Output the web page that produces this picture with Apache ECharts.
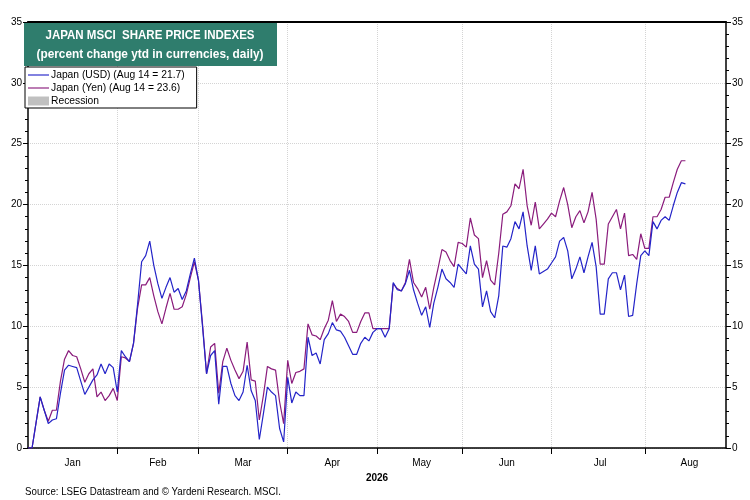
<!DOCTYPE html>
<html>
<head>
<meta charset="utf-8">
<script src="https://cdn.jsdelivr.net/npm/echarts@6/dist/echarts.min.js"></script>
<style>html,body{margin:0;padding:0;background:#fff}#c{width:750px;height:500px}</style>
</head>
<body>
<div id="c"></div>
<script>
// ---- data (one value per business day from Jan 1, 2026) ----
const usd = [0,0,2.1,4.2,3.1,2.0,2.3,2.4,4.5,6.4,6.8,6.7,6.6,5.5,4.4,5.0,5.6,6.0,6.9,6.1,6.9,6.6,4.6,8.0,7.5,7.1,8.6,11.8,15.3,15.8,17.0,15.0,13.5,12.3,13.2,14.0,12.8,13.1,12.2,12.9,14.3,15.6,13.8,10.0,6.1,7.6,8.0,3.6,6.7,6.7,5.3,4.3,3.9,4.6,6.8,4.7,3.9,0.7,2.8,5.0,4.6,4.3,1.6,0.5,5.8,3.7,4.6,4.3,4.3,9.1,7.6,7.8,6.9,8.9,9.4,10.3,9.7,9.6,9.1,8.4,7.7,7.7,8.6,9.1,8.8,9.5,9.8,9.8,9.1,9.8,13.6,13.0,12.9,13.5,14.6,13.0,11.9,10.9,11.6,9.9,11.9,13.2,14.7,13.9,13.6,13.2,15.1,14.7,14.3,16.6,15.1,14.7,11.6,12.9,11.2,10.7,12.5,16.6,16.5,17.2,18.6,18.0,19.4,16.6,14.6,16.6,14.3,14.5,14.7,15.2,15.7,17.0,17.3,16.2,13.9,14.7,15.7,14.4,15.7,16.9,14.9,11.0,11.0,13.9,14.4,14.4,13.0,14.2,10.8,10.9,13.5,15.8,16.2,15.8,18.6,18.0,18.7,19.0,18.7,19.9,21.0,21.8,21.7];
const yen = [0,0,2.1,4.2,3.1,2.2,3.1,3.1,5.5,7.3,8.0,7.6,7.5,6.5,5.4,6.1,6.5,4.2,4.6,3.9,4.3,4.9,3.9,7.5,7.4,7.1,8.6,11.5,13.4,13.4,14.0,12.5,11.2,10.2,11.5,12.7,11.4,11.4,11.6,12.6,14.0,15.3,13.8,10.2,6.1,8.3,8.6,4.5,7.1,8.2,7.2,6.4,5.7,6.3,8.7,5.6,5.5,2.3,4.3,6.7,6.5,6.4,3.8,2.0,7.2,5.3,6.2,6.3,6.5,10.2,9.3,9.2,8.9,9.8,10.5,12.1,10.4,11.0,10.8,10.4,9.5,9.5,10.4,11.1,11.1,9.8,9.8,9.8,9.8,9.8,13.5,13.1,12.9,13.6,15.5,13.6,13.1,12.4,13.2,11.4,13.2,14.7,16.3,16.1,15.4,14.9,16.9,16.8,16.5,18.9,17.5,17.2,14.0,15.4,13.8,13.4,16.0,19.2,19.4,19.9,21.7,21.3,22.9,19.9,18.3,20.2,18.0,18.4,18.8,19.3,19.0,20.3,21.4,20.0,18.1,19.0,19.5,18.5,19.4,21.0,18.8,15.1,15.1,18.4,19.0,19.6,18.0,19.3,15.8,15.9,15.5,17.6,16.4,16.4,19.0,19.0,19.6,20.6,20.6,21.8,22.9,23.6,23.6];
const monthNames = ['Jan','Feb','Mar','Apr','May','Jun','Jul','Aug'];
const yTicks = [0,5,10,15,20,25,30,35];
const usdName = 'Japan (USD) (Aug 14 = 21.7)';
const yenName = 'Japan (Yen) (Aug 14 = 23.6)';
const recName = 'Recession';
const title1 = 'JAPAN MSCI  SHARE PRICE INDEXES';
const title2 = '(percent change ytd in currencies, daily)';
const sourceText = 'Source: LSEG Datastream and \u00a9 Yardeni Research. MSCI.';

// business days Jan 1 - Aug 31, 2026
const bdays = [], bmonth = [];
for (let t = Date.UTC(2026,0,1); t <= Date.UTC(2026,7,31); t += 86400000) {
  const d = new Date(t), wd = d.getUTCDay();
  if (wd === 0 || wd === 6) continue;
  bdays.push(d.toISOString().slice(0,10));
  bmonth.push(d.getUTCMonth());
}
const firstIdx = {}, midIdx = {}, counts = {};
bmonth.forEach((m,i)=>{ if(!(m in firstIdx)) firstIdx[m]=i; counts[m]=(counts[m]||0)+1; });
Object.keys(firstIdx).forEach(m=>{ midIdx[firstIdx[m]+Math.round(counts[m]/2)] = +m; });
const isFirst = i => i>0 && firstIdx[bmonth[i]] === i;

const F = "'Liberation Sans',Arial,sans-serif";
const ctx = document.createElement('canvas').getContext('2d');
function fit(text, font, target){ ctx.font = font; return target / ctx.measureText(text).width; }
const tFont = "bold 13px " + F, sFont = "11px " + F;

const chart = echarts.init(document.getElementById('c'));
const yAx = (pos) => ({
  type:'value', position:pos, min:yTicks[0], max:yTicks[yTicks.length-1], interval:5,
  axisLine:{show:true, lineStyle:{color:'#000', width:1.5}},
  axisTick:{show:true, length:5, lineStyle:{color:'#000'}},
  minorTick:{show:true, splitNumber:5, length:3, lineStyle:{color:'#000'}},
  axisLabel:{fontFamily:F, fontSize:10, color:'#000', margin:6},
  splitLine:{show: pos==='left', lineStyle:{color:'#d4d4d4', type:'dotted'}}
});
const lineIcon = 'path://M0,0H24V1.3H0Z';
chart.setOption({
  animation:false,
  backgroundColor:'#fff',
  grid:{left:28, right:24, top:22, bottom:52},
  graphic:[
    {type:'rect', left:24, top:23, shape:{width:253, height:43}, style:{fill:'#2f7d6d'}, z:10},
    {type:'text', x:150, y:29, scaleX:fit(title1,tFont,209), z:11, style:{text:title1, fill:'#fff', font:tFont, textAlign:'center'}},
    {type:'text', x:150, y:48, scaleX:fit(title2,tFont,227), z:11, style:{text:title2, fill:'#fff', font:tFont, textAlign:'center'}},
    {type:'text', x:25, y:486, scaleX:fit(sourceText,sFont,256), style:{text:sourceText, fill:'#000', font:sFont}}
  ],
  legend:{
    orient:'vertical', left:25, top:67, backgroundColor:'#fff', borderColor:'#000', borderWidth:1, borderRadius:0,
    padding:[3,12,2,3], itemGap:3, itemWidth:21, itemHeight:9,
    textStyle:{fontFamily:F, fontSize:10.3, color:'#000', padding:[0,0,0,-3]},
    data:[{name:usdName, icon:lineIcon}, {name:yenName, icon:lineIcon}, {name:recName, icon:'rect'}]
  },
  xAxis:[{
    type:'category', data:bdays, boundaryGap:false,
    name:'2026', nameLocation:'middle', nameGap:25, nameTextStyle:{fontFamily:F, fontSize:10, color:'#000', fontWeight:'bold'},
    axisLine:{onZero:false, lineStyle:{color:'#000', width:1.5}},
    axisTick:{show:true, length:6, interval:(i)=>isFirst(i), lineStyle:{color:'#000'}},
    axisLabel:{interval:(i)=> (i in midIdx), formatter:(v,i)=> monthNames[bmonth[i]], fontFamily:F, fontSize:10, color:'#000', margin:10},
    splitLine:{show:true, interval:(i)=>isFirst(i), lineStyle:{color:'#d4d4d4', type:'dotted'}}
  },{
    type:'category', data:bdays, boundaryGap:false, position:'top',
    axisLine:{show:true, onZero:false, lineStyle:{color:'#000', width:2}}, axisTick:{show:false}, axisLabel:{show:false}, splitLine:{show:false}
  }],
  yAxis:[yAx('left'), yAx('right')],
  series:[
    {name:recName, type:'bar', data:[], itemStyle:{color:'#c0c0c0'}},
    {name:yenName, type:'line', data:yen, symbol:'none', lineStyle:{color:'#8a1c7c', width:1.2}, itemStyle:{color:'#8a1c7c'}},
    {name:usdName, type:'line', data:usd, symbol:'none', lineStyle:{color:'#2424c8', width:1.2}, itemStyle:{color:'#2424c8'}}
  ]
});
</script>
</body>
</html>
